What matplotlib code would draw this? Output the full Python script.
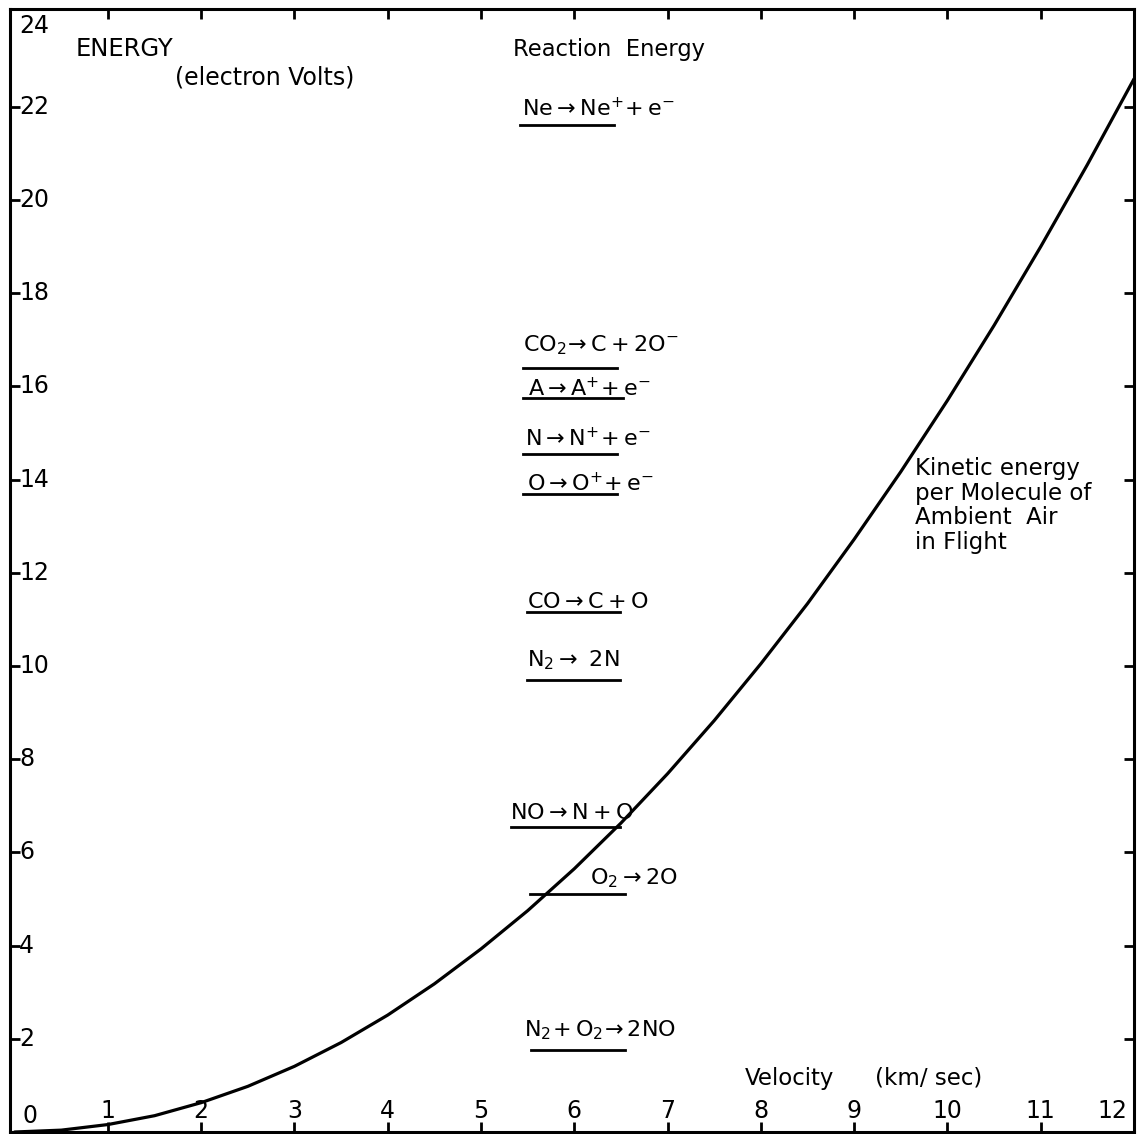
import matplotlib
matplotlib.use("Agg")
import matplotlib.pyplot as plt

plt.rcParams["font.family"] = ["DejaVu Sans"]
plt.rcParams["mathtext.fontset"] = "dejavusans"
plt.rcParams["mathtext.default"] = "regular"

# kinetic energy curve (km/sec, eV)
velocity = [0, 0.5, 1, 1.5, 2, 2.5, 3, 3.5, 4, 4.5, 5, 5.5, 6,
            6.5, 7, 7.5, 8, 8.5, 9, 9.5, 10, 10.5, 11, 11.5, 12]
energy = [0, 0.04, 0.16, 0.35, 0.63, 0.98, 1.41, 1.92, 2.51, 3.18, 3.93, 4.75, 5.65,
          6.63, 7.69, 8.83, 10.05, 11.34, 12.72, 14.17, 15.7, 17.31, 19.0, 20.76, 22.6]

# reactions and their energies (eV)
reactions = [r"$Ne \rightarrow Ne^{+}\!+e^{-}$",
             r"$CO_2\!\rightarrow C+2O^{-}$",
             r"$A \rightarrow A^{+}\!+e^{-}$",
             r"$N \rightarrow N^{+}\!+e^{-}$",
             r"$O \rightarrow O^{+}\!+e^{-}$",
             r"$CO \rightarrow C+O$",
             r"$N_2 \rightarrow\ 2N$",
             r"$NO \rightarrow N+O$",
             r"$O_2 \rightarrow 2O$",
             r"$N_2\!+O_2\!\rightarrow 2NO$"]
reaction_energy = [21.6, 16.4, 15.75, 14.55, 13.7, 11.15, 9.7, 6.55, 5.1, 1.75]

x_ticks = [1, 2, 3, 4, 5, 6, 7, 8, 9, 10, 11]
y_ticks = [2, 4, 6, 8, 10, 12, 14, 16, 18, 20, 22]

# layout: underline extents and label anchors (data coords)
line_start = [5.42, 5.45, 5.45, 5.45, 5.45, 5.49, 5.49, 5.32, 5.52, 5.54]
line_end = [6.43, 6.46, 6.52, 6.46, 6.46, 6.49, 6.49, 6.49, 6.54, 6.54]
label_x = [5.44, 5.45, 5.50, 5.47, 5.49, 5.49, 5.49, 5.31, 6.17, 5.46]
label_y = [21.8, 16.76, 15.79, 14.72, 13.76, 11.24, 10.0, 6.72, 5.32, 2.06]

fig = plt.figure(figsize=(11.38, 11.34), dpi=100)
ax = fig.add_axes([10 / 1138, 2 / 1134, 1124 / 1138, 1123 / 1134])
ax.set_xlim(-0.05, 12.0)
ax.set_ylim(0, 24.1)

for side in ax.spines.values():
    side.set_linewidth(2.2)

ax.set_xticks(x_ticks)
ax.set_yticks(y_ticks)
ax.set_xticklabels([])
ax.set_yticklabels([])
ax.tick_params(direction="in", length=7, width=2, top=True, right=True,
               labelbottom=False, labelleft=False)

# tick numbers sit inside the frame
fs = 17
for x in x_ticks:
    ax.text(x, 0.19, str(x), ha="center", va="bottom", fontsize=fs)
ax.text(11.93, 0.19, "12", ha="right", va="bottom", fontsize=fs)
for y in y_ticks:
    ax.text(0.05, y, str(y), ha="left", va="center", fontsize=fs)
ax.text(0.05, 23.73, "24", ha="left", va="center", fontsize=fs)
ax.text(0.16, 0.34, "0", ha="center", va="center", fontsize=fs)

# curve
ax.plot(velocity, energy, color="black", linewidth=2.3, solid_capstyle="round")

# reactions with underlines
for name, e, x0, x1, lx, ly in zip(reactions, reaction_energy, line_start, line_end, label_x, label_y):
    ax.plot([x0, x1], [e, e], color="black", linewidth=2)
    ax.text(lx, ly, name, ha="left", va="baseline", fontsize=16)

# labels
ax.text(0.65, 23.09, "ENERGY", ha="left", va="baseline", fontsize=17.5)
ax.text(1.72, 22.47, "(electron Volts)", ha="left", va="baseline", fontsize=17)
ax.text(5.34, 23.09, "Reaction  Energy", ha="left", va="baseline", fontsize=16.3)
ax.text(7.83, 1.01, "Velocity", ha="left", va="baseline", fontsize=16.5)
ax.text(9.22, 1.01, "(km/ sec)", ha="left", va="baseline", fontsize=16.5)
ax.text(9.65, 14.49, "Kinetic energy\nper Molecule of\nAmbient  Air\nin Flight",
        ha="left", va="top", fontsize=16.5, linespacing=1.1)

fig.savefig("out.png", dpi=100)
